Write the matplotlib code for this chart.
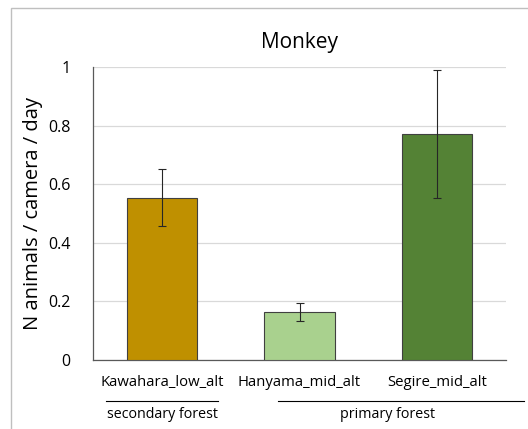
import matplotlib
matplotlib.use("Agg")
import matplotlib.pyplot as plt
from matplotlib.patches import Rectangle
from matplotlib.lines import Line2D

sites = ["Kawahara_low_alt", "Hanyama_mid_alt", "Segire_mid_alt"]
rates = [0.553, 0.164, 0.771]
err_hi = [0.652, 0.195, 0.990]
err_lo = [0.457, 0.133, 0.553]
colors = ["#BF9000", "#A9D18E", "#548235"]
groups = ["secondary forest", "primary forest"]
yticks = [0, 0.2, 0.4, 0.6, 0.8, 1]
ytick_labels = ["0", "0.2", "0.4", "0.6", "0.8", "1"]

plt.rcParams["font.family"] = ["Open Sans", "DejaVu Sans"]

W, H = 528, 429
fig = plt.figure(figsize=(W / 100, H / 100), dpi=100)

# outer chart frame
fig.patches.append(Rectangle((10.5 / W, 1 - 440 / H), 540 / W, (440 - 7.5) / H,
                             transform=fig.transFigure, fill=False,
                             edgecolor="#BFBFBF", linewidth=1.0))

ax = fig.add_axes([93 / W, 1 - 360 / H, (506 - 93) / W, (360 - 67) / H])
x = list(range(len(sites)))
yerr = [[r - lo for r, lo in zip(rates, err_lo)],
        [hi - r for r, hi in zip(rates, err_hi)]]
ax.bar(x, rates, width=0.51, color=colors, edgecolor="#404040", linewidth=0.8,
       zorder=3)
ax.errorbar(x, rates, yerr=yerr, fmt="none", ecolor="#262626", elinewidth=0.8,
            capsize=3, capthick=0.8, zorder=4)

ax.set_xlim(-0.5, 2.5)
ax.set_ylim(0, 1)
ax.set_yticks(yticks)
ax.set_yticklabels(ytick_labels, fontsize=11.5)
ax.set_xticks(x)
ax.set_xticklabels(sites, fontsize=10.7)
ax.tick_params(axis="both", length=0, pad=11, colors="#000000")
ax.tick_params(axis="y", pad=16)
ax.yaxis.grid(True, color="#D9D9D9", linewidth=0.9, zorder=0)
for side in ("top", "right"):
    ax.spines[side].set_visible(False)
for side in ("left", "bottom"):
    ax.spines[side].set_color("#595959")
    ax.spines[side].set_linewidth(0.9)

ax.set_title("Monkey", fontsize=15, pad=14)
ax.set_ylabel("N animals / camera / day", fontsize=14.5, labelpad=4)

# forest-type group brackets below the site labels
def grp(x0, x1, label, tx):
    fig.add_artist(Line2D([x0 / W, x1 / W], [1 - 400.5 / H, 1 - 400.5 / H],
                          transform=fig.transFigure, color="#000000",
                          linewidth=0.8))
    fig.text(tx / W, 1 - 414 / H, label, ha="center", va="center",
             fontsize=10.3)

grp(106, 218, groups[0], 162)
grp(278, 524, groups[1], 388)

fig.savefig("out.png", dpi=100)
